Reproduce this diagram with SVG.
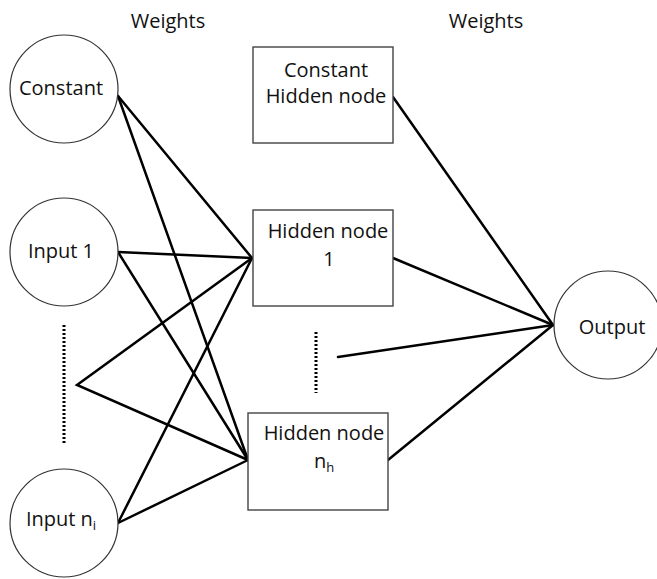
<svg xmlns="http://www.w3.org/2000/svg" width="657" height="579" viewBox="0 0 657 579">
<style>
  .c { fill: #fff; stroke: #333; stroke-width: 1.2; }
  .b { fill: #fff; stroke: #444; stroke-width: 1.4; }
  .t { font-family: "Open Sans", "Liberation Sans", sans-serif; font-size: 20px; fill: #111; text-anchor: middle; }
  .s { font-size: 13px; }
  .e { stroke: #000; stroke-width: 2.5; fill: none; stroke-linecap: round; }
  .d { stroke: #000; stroke-width: 3; stroke-dasharray: 2 2; fill: none; }
</style>
<rect width="657" height="579" fill="#fff"/>
<g id="labels">
  <text class="t" x="168" y="28">Weights</text>
  <text class="t" x="486" y="28">Weights</text>
</g>
<g id="connectors">
  <line class="e" x1="118" y1="96" x2="252" y2="258"/>
  <line class="e" x1="118" y1="96" x2="248" y2="460"/>
  <line class="e" x1="118" y1="252" x2="252" y2="258"/>
  <line class="e" x1="118" y1="252" x2="248" y2="460"/>
  <polyline class="e" points="252,258 77,385 248,460"/>
  <line class="e" x1="118" y1="523" x2="252" y2="258"/>
  <line class="e" x1="118" y1="523" x2="248" y2="460"/>
  <line class="e" x1="393" y1="97" x2="553" y2="325"/>
  <line class="e" x1="393" y1="258" x2="553" y2="325"/>
  <line class="e" x1="338" y1="357" x2="553" y2="325"/>
  <line class="e" x1="388" y1="460" x2="553" y2="325"/>
  <line class="d" x1="64" y1="325" x2="64" y2="445"/>
  <line class="d" x1="316" y1="332" x2="316" y2="393"/>
</g>
<g id="constant">
  <circle class="c" cx="64" cy="89" r="54"/>
  <text class="t" x="61" y="95">Constant</text>
</g>
<g id="input1">
  <circle class="c" cx="64" cy="252" r="54"/>
  <text class="t" x="61" y="258">Input 1</text>
</g>
<g id="inputni">
  <circle class="c" cx="64" cy="523" r="54"/>
  <text class="t" x="61" y="526">Input n<tspan class="s" dy="4">i</tspan></text>
</g>
<g id="consthidden">
  <rect class="b" x="253" y="47" width="140" height="96"/>
  <text class="t" x="326" y="77">Constant</text>
  <text class="t" x="326" y="103">Hidden node</text>
</g>
<g id="hidden1">
  <rect class="b" x="253" y="210" width="140" height="96"/>
  <text class="t" x="328" y="238">Hidden node</text>
  <text class="t" x="329" y="266">1</text>
</g>
<g id="hiddennh">
  <rect class="b" x="248" y="413" width="140" height="97"/>
  <text class="t" x="324" y="440">Hidden node</text>
  <text class="t" x="324" y="468">n<tspan class="s" dy="4">h</tspan></text>
</g>
<g id="output">
  <circle class="c" cx="608" cy="325" r="54"/>
  <text class="t" x="612" y="334">Output</text>
</g>
</svg>
